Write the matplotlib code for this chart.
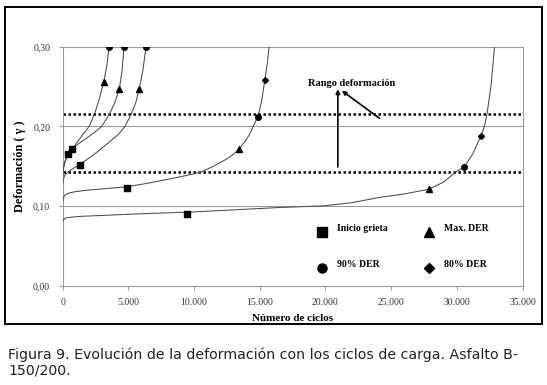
import matplotlib
matplotlib.use("Agg")
import matplotlib.pyplot as plt
from matplotlib.patches import Rectangle
from matplotlib.ticker import FixedLocator, FixedFormatter

# ---- data ----
curve_a_x = [0, 60, 150, 260, 404, 700, 1100, 1550, 2026, 2407, 2750, 3122, 3350, 3534]
curve_a_y = [0.138, 0.148, 0.155, 0.160, 0.165, 0.171, 0.180, 0.190, 0.200, 0.215, 0.232, 0.256, 0.275, 0.300]

curve_b_x = [0, 60, 150, 300, 685, 1200, 1800, 2400, 2970, 3550, 3950, 4311, 4520, 4669]
curve_b_y = [0.138, 0.147, 0.154, 0.160, 0.1715, 0.178, 0.185, 0.192, 0.200, 0.215, 0.229, 0.247, 0.270, 0.300]

curve_c_x = [0, 60, 150, 350, 700, 1295, 2000, 2800, 3600, 4250, 4745, 5202, 5550, 5834, 6100, 6344]
curve_c_y = [0.128, 0.134, 0.138, 0.142, 0.146, 0.152, 0.160, 0.170, 0.181, 0.190, 0.200, 0.215, 0.229, 0.247, 0.270, 0.300]

curve_d_x = [0, 80, 200, 450, 1000, 2000, 3500, 4920, 6649, 8500, 10457, 11500, 12600, 13447, 14200, 14851, 15150, 15384, 15580, 15712]
curve_d_y = [0.106, 0.111, 0.114, 0.116, 0.118, 0.120, 0.122, 0.124, 0.129, 0.135, 0.142, 0.150, 0.160, 0.171, 0.189, 0.212, 0.232, 0.258, 0.280, 0.300]

curve_e_x = [0, 80, 250, 700, 1500, 3000, 5000, 7500, 10000, 13000, 16500, 19800, 22000, 24162, 26000, 27875, 29000, 29954, 30564, 31200, 31835, 32110, 32293, 32600, 32871]
curve_e_y = [0.080, 0.083, 0.085, 0.086, 0.087, 0.088, 0.0895, 0.091, 0.0925, 0.095, 0.098, 0.100, 0.104, 0.1108, 0.115, 0.121, 0.130, 0.143, 0.149, 0.165, 0.188, 0.200, 0.215, 0.250, 0.300]

curves_x = [curve_a_x, curve_b_x, curve_c_x, curve_d_x, curve_e_x]
curves_y = [curve_a_y, curve_b_y, curve_c_y, curve_d_y, curve_e_y]

inicio_x = [404, 685, 1295, 4920, 9490]
inicio_y = [0.165, 0.1715, 0.152, 0.123, 0.0898]
maxder_x = [3122, 4311, 5834, 13447, 27875]
maxder_y = [0.256, 0.247, 0.247, 0.171, 0.121]
der90_x = [3534, 4669, 6344, 14851, 30564]
der90_y = [0.300, 0.300, 0.300, 0.212, 0.149]
der80_x = [15384, 31835]
der80_y = [0.258, 0.188]

range_levels = [0.215, 0.143]

x_ticks = [0, 5000, 10000, 15000, 20000, 25000, 30000, 35000]
x_labels = ["0", "5.000", "10.000", "15.000", "20.000", "25.000", "30.000", "35.000"]
y_ticks = [0.0, 0.10, 0.20, 0.30]
y_labels = ["0,00", "0,10", "0,20", "0,30"]

# ---- figure ----
W, H = 547, 385
fig = plt.figure(figsize=(W / 100, H / 100), dpi=100)
fig.patch.set_facecolor("white")

serif = ["Liberation Serif", "DejaVu Serif"]

ax = fig.add_axes([62.7 / W, 1 - 285.5 / H, (522.5 - 62.7) / W, (285.5 - 46.7) / H])
ax.set_xlim(0, 35000)
ax.set_ylim(0, 0.30)

grid_c = "#9a9a9a"
for yv in [0.10, 0.20, 0.30]:
    ax.axhline(yv, color=grid_c, lw=0.8, zorder=1)

for sp in ["left", "bottom", "right"]:
    ax.spines[sp].set_color(grid_c)
    ax.spines[sp].set_linewidth(0.8)
ax.spines["top"].set_visible(False)

for lv in range_levels:
    ax.axhline(lv, color="black", lw=1.8, ls=(0, (1, 1)), zorder=2)

for cx, cy in zip(curves_x, curves_y):
    ax.plot(cx, cy, color="#4a4a4a", lw=0.75, zorder=3)

ax.plot(inicio_x, inicio_y, ls="none", marker="s", ms=4.5, color="black", zorder=4)
ax.plot(maxder_x, maxder_y, ls="none", marker="^", ms=4, color="black", zorder=4)
ax.plot(der90_x, der90_y, ls="none", marker="o", ms=4, color="black", zorder=4)
ax.plot(der80_x, der80_y, ls="none", marker="D", ms=3, color="black", zorder=4)

ax.xaxis.set_major_locator(FixedLocator(x_ticks))
ax.xaxis.set_major_formatter(FixedFormatter(x_labels))
ax.yaxis.set_major_locator(FixedLocator(y_ticks))
ax.yaxis.set_major_formatter(FixedFormatter(y_labels))
ax.tick_params(axis="both", direction="out", length=3, width=0.8, color=grid_c,
               labelsize=7, labelcolor="#333333")
ax.tick_params(axis="x", pad=6)
ax.tick_params(axis="y", pad=6)
for lab in ax.get_xticklabels() + ax.get_yticklabels():
    lab.set_family(serif)

ax.set_xlabel("Número de ciclos", family=serif, fontsize=8, fontweight="bold", labelpad=5)
ax.set_ylabel("Deformación ( γ )", family=serif, fontsize=8.8, fontweight="bold", labelpad=5)

# annotation
ax.text(21957, 0.254, "Rango deformación", family=serif, fontsize=7.5, fontweight="bold",
        ha="center", va="center", zorder=5)
ax.annotate("", xy=(20944, 0.2465), xytext=(20944, 0.149),
            arrowprops=dict(arrowstyle="-|>", color="black", lw=1.2, mutation_scale=6,
                            shrinkA=0, shrinkB=0), zorder=5)
ax.annotate("", xy=(21249, 0.2447), xytext=(24113, 0.210),
            arrowprops=dict(arrowstyle="-|>", color="black", lw=1.2, mutation_scale=6,
                            shrinkA=0, shrinkB=0), zorder=5)

# legend drawn as markers + text in data coords
leg_items = [
    (19770, 0.067, "s", 6.5, "Inicio grieta"),
    (27900, 0.067, "^", 6.5, "Max. DER"),
    (19770, 0.022, "o", 6.5, "90% DER"),
    (27900, 0.022, "D", 5.5, "80% DER"),
]
for lx, ly, mk, ms, txt in leg_items:
    ax.plot([lx], [ly], ls="none", marker=mk, ms=ms, color="black", zorder=5)
    ax.text(lx + 1100, ly + 0.004, txt, family=serif, fontsize=7, fontweight="bold",
            ha="left", va="center", zorder=5)

# outer frame
fig.patches.append(Rectangle((5 / W, 1 - 324 / H), (541.7 - 5) / W, (324 - 6.7) / H,
                             transform=fig.transFigure, fill=False, edgecolor="black",
                             lw=1.4))

# caption
fig.text(8 / W, 1 - 355 / H,
         "Figura 9. Evolución de la deformación con los ciclos de carga. Asfalto B-",
         family=["DejaVu Sans"], fontsize=10.2, color="#222222", ha="left", va="center")
fig.text(8 / W, 1 - 371 / H, "150/200.", family=["DejaVu Sans"], fontsize=10.2,
         color="#222222", ha="left", va="center")

fig.savefig("out.png", dpi=100)
